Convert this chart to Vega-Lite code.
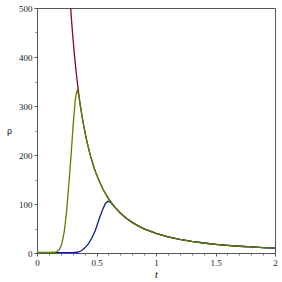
{
  "$schema": "https://vega.github.io/schema/vega-lite/v6.json",
  "width": 238,
  "height": 245,
  "autosize": "none",
  "padding": {"left": 37, "top": 8, "right": 7, "bottom": 29},
  "background": "white",
  "config": {
    "view": {"stroke": "#555", "strokeWidth": 1},
    "font": "Liberation Serif"
  },
  "resolve": {"axis": {"x": "independent", "y": "independent"}},
  "datasets": {
    "red": [
      {"t": 0.283, "rho": 500}, {"t": 0.29, "rho": 475.6}, {"t": 0.30, "rho": 444.4}, {"t": 0.31, "rho": 416.2},
      {"t": 0.32, "rho": 390.6}, {"t": 0.33, "rho": 367.3}, {"t": 0.34, "rho": 346.0}, {"t": 0.35, "rho": 326.5},
      {"t": 0.36, "rho": 308.6}, {"t": 0.38, "rho": 277.0}, {"t": 0.40, "rho": 250.0}, {"t": 0.42, "rho": 226.8},
      {"t": 0.45, "rho": 197.5}, {"t": 0.48, "rho": 173.6}, {"t": 0.50, "rho": 160.0}, {"t": 0.55, "rho": 132.2},
      {"t": 0.60, "rho": 111.1}, {"t": 0.65, "rho": 94.7}, {"t": 0.70, "rho": 81.6}, {"t": 0.75, "rho": 71.1},
      {"t": 0.80, "rho": 62.5}, {"t": 0.85, "rho": 55.4}, {"t": 0.90, "rho": 49.4}, {"t": 1.0, "rho": 40.0},
      {"t": 1.1, "rho": 33.1}, {"t": 1.2, "rho": 27.8}, {"t": 1.3, "rho": 23.7}, {"t": 1.4, "rho": 20.4},
      {"t": 1.5, "rho": 17.8}, {"t": 1.6, "rho": 15.6}, {"t": 1.7, "rho": 13.8}, {"t": 1.8, "rho": 12.3},
      {"t": 1.9, "rho": 11.1}, {"t": 2.0, "rho": 10.0}
    ],
    "blue": [
      {"t": 0, "rho": 0.5}, {"t": 0.1, "rho": 0.5}, {"t": 0.2, "rho": 0.5}, {"t": 0.3, "rho": 0.8},
      {"t": 0.34, "rho": 1.5}, {"t": 0.37, "rho": 4}, {"t": 0.4, "rho": 10}, {"t": 0.43, "rho": 18},
      {"t": 0.46, "rho": 30}, {"t": 0.49, "rho": 46}, {"t": 0.52, "rho": 68}, {"t": 0.55, "rho": 88},
      {"t": 0.575, "rho": 101}, {"t": 0.595, "rho": 105.5}, {"t": 0.615, "rho": 104}, {"t": 0.635, "rho": 99},
      {"t": 0.65, "rho": 94.7}, {"t": 0.70, "rho": 81.6}, {"t": 0.75, "rho": 71.1},
      {"t": 0.80, "rho": 62.5}, {"t": 0.85, "rho": 55.4}, {"t": 0.90, "rho": 49.4}, {"t": 1.0, "rho": 40.0},
      {"t": 1.1, "rho": 33.1}, {"t": 1.2, "rho": 27.8}, {"t": 1.3, "rho": 23.7}, {"t": 1.4, "rho": 20.4},
      {"t": 1.5, "rho": 17.8}, {"t": 1.6, "rho": 15.6}, {"t": 1.7, "rho": 13.8}, {"t": 1.8, "rho": 12.3},
      {"t": 1.9, "rho": 11.1}, {"t": 2.0, "rho": 10.0}
    ],
    "green": [
      {"t": 0, "rho": 1}, {"t": 0.05, "rho": 1}, {"t": 0.1, "rho": 1}, {"t": 0.15, "rho": 1.5},
      {"t": 0.17, "rho": 3}, {"t": 0.19, "rho": 8}, {"t": 0.21, "rho": 20}, {"t": 0.23, "rho": 45},
      {"t": 0.25, "rho": 88}, {"t": 0.27, "rho": 148}, {"t": 0.29, "rho": 212}, {"t": 0.305, "rho": 265},
      {"t": 0.32, "rho": 308}, {"t": 0.33, "rho": 326}, {"t": 0.34, "rho": 332}, {"t": 0.35, "rho": 322},
      {"t": 0.36, "rho": 306}, {"t": 0.38, "rho": 277.0}, {"t": 0.40, "rho": 250.0}, {"t": 0.42, "rho": 226.8},
      {"t": 0.45, "rho": 197.5}, {"t": 0.48, "rho": 173.6}, {"t": 0.50, "rho": 160.0}, {"t": 0.55, "rho": 132.2},
      {"t": 0.60, "rho": 111.1}, {"t": 0.65, "rho": 94.7}, {"t": 0.70, "rho": 81.6}, {"t": 0.75, "rho": 71.1},
      {"t": 0.80, "rho": 62.5}, {"t": 0.85, "rho": 55.4}, {"t": 0.90, "rho": 49.4}, {"t": 1.0, "rho": 40.0},
      {"t": 1.1, "rho": 33.1}, {"t": 1.2, "rho": 27.8}, {"t": 1.3, "rho": 23.7}, {"t": 1.4, "rho": 20.4},
      {"t": 1.5, "rho": 17.8}, {"t": 1.6, "rho": 15.6}, {"t": 1.7, "rho": 13.8}, {"t": 1.8, "rho": 12.3},
      {"t": 1.9, "rho": 11.1}, {"t": 2.0, "rho": 10.0}
    ]
  },
  "layer": [
    {
      "data": {"name": "red"},
      "mark": {"type": "line", "color": "#7f0a1e", "strokeWidth": 1.3, "clip": true},
      "encoding": {
        "x": {"field": "t", "type": "quantitative",
              "scale": {"domain": [0, 2], "nice": false},
              "axis": {"orient": "bottom", "values": [0, 0.5, 1, 1.5, 2], "format": "~g",
                       "title": "t", "titleFontStyle": "italic", "titleFontWeight": "normal", "titleFontSize": 10,
                       "titlePadding": 2, "labelFontSize": 9, "labelColor": "#222", "domainColor": "#555",
                       "tickColor": "#555", "tickSize": 3, "grid": false, "labelPadding": 2, "labelFlush": false}},
        "y": {"field": "rho", "type": "quantitative",
              "scale": {"domain": [0, 500], "nice": false},
              "axis": {"orient": "left", "values": [0, 100, 200, 300, 400, 500], "format": "d", "title": "ρ", "titleAngle": 0,
                       "titleFontWeight": "normal", "titleFontSize": 10, "titleX": -28, "titleY": 127,
                       "labelFontSize": 9, "labelColor": "#222", "domainColor": "#555",
                       "tickColor": "#555", "tickSize": 3, "grid": false, "labelPadding": 2}}
      }
    },
    {
      "data": {"name": "blue"},
      "mark": {"type": "line", "color": "#0a1a8a", "strokeWidth": 1.3, "clip": true},
      "encoding": {
        "x": {"field": "t", "type": "quantitative",
              "axis": {"orient": "bottom", "values": [0.1, 0.2, 0.3, 0.4, 0.6, 0.7, 0.8, 0.9, 1.1, 1.2, 1.3, 1.4, 1.6, 1.7, 1.8, 1.9],
                       "labels": false, "domain": false, "title": null, "tickColor": "#777", "tickSize": 2, "grid": false}},
        "y": {"field": "rho", "type": "quantitative",
              "axis": {"orient": "left", "values": [50, 150, 250, 350, 450],
                       "labels": false, "domain": false, "title": null, "tickColor": "#777", "tickSize": 2, "grid": false}}
      }
    },
    {
      "data": {"name": "green"},
      "mark": {"type": "line", "color": "#5a8200", "strokeWidth": 1.3, "clip": true},
      "encoding": {
        "x": {"field": "t", "type": "quantitative", "axis": null},
        "y": {"field": "rho", "type": "quantitative", "axis": null}
      }
    }
  ]
}
